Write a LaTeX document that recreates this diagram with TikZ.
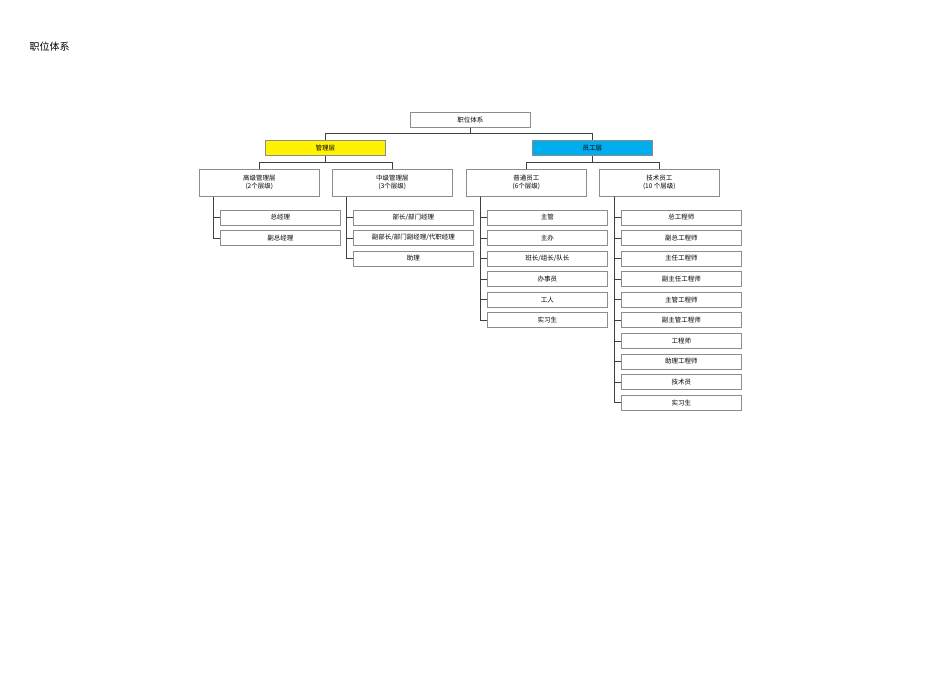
\documentclass[tikz,border=0pt]{standalone}
\usepackage{fontspec}
\setmainfont{Noto Sans CJK SC}
\begin{document}
\begin{tikzpicture}[x=1pt,y=-1pt,
  box/.style={draw=black!45,line width=0.6pt,minimum width=120pt,minimum height=15pt,inner sep=0pt,font=\fontsize{6.5}{8}\selectfont,align=center,anchor=north west},
  tall/.style={box,minimum height=27pt},
  conn/.style={draw=black!75,line width=0.6pt}]
\useasboundingbox (0,0) rectangle (950,672);
\node[anchor=west,font=\fontsize{10}{12}\selectfont] (title) at (26,47) {职位体系};
\node[box] (root) at (410,112) {职位体系};
\node[box,fill=yellow] (mg) at (265,140) {管理层};
\node[box,fill=cyan] (st) at (532,140) {员工层};
\node[tall] (c1) at (199,169) {高级管理层\\(2个层级)};
\node[tall] (c2) at (332,169) {中级管理层\\(3个层级)};
\node[tall] (c3) at (466,169) {普通员工\\(6个层级)};
\node[tall] (c4) at (599,169) {技术员工\\(10 个层级)};
\draw[conn] (root.south) -- ++(0,6) -| (mg.north);
\draw[conn] (root.south) -- ++(0,6) -| (st.north);
\draw[conn] (mg.south) -- ++(0,7) -| (c1.north);
\draw[conn] (mg.south) -- ++(0,7) -| (c2.north);
\draw[conn] (st.south) -- ++(0,7) -| (c3.north);
\draw[conn] (st.south) -- ++(0,7) -| (c4.north);
\def\rowy#1{\ifcase#1\or 209.5\or 230\or 250.6\or 271.2\or 291.8\or 312.4\or 333\or 353.6\or 374.2\or 394.8\fi}
\foreach \t [count=\i] in {总经理,副总经理}{
  \node[box] (a\i) at (220,\rowy{\i}) {\t};
  \draw[conn] ([xshift=14pt]c1.south west) |- (a\i.west);}
\foreach \t [count=\i] in {部长/部门经理,副部长/部门副经理/代职经理,助理}{
  \node[box] (b\i) at (353,\rowy{\i}) {\t};
  \draw[conn] ([xshift=14pt]c2.south west) |- (b\i.west);}
\foreach \t [count=\i] in {主管,主办,班长/组长/队长,办事员,工人,实习生}{
  \node[box] (d\i) at (487,\rowy{\i}) {\t};
  \draw[conn] ([xshift=14pt]c3.south west) |- (d\i.west);}
\foreach \t [count=\i] in {总工程师,副总工程师,主任工程师,副主任工程师,主管工程师,副主管工程师,工程师,助理工程师,技术员,实习生}{
  \node[box] (e\i) at (621,\rowy{\i}) {\t};
  \draw[conn] ([xshift=15pt]c4.south west) |- (e\i.west);}
\end{tikzpicture}
\end{document}
